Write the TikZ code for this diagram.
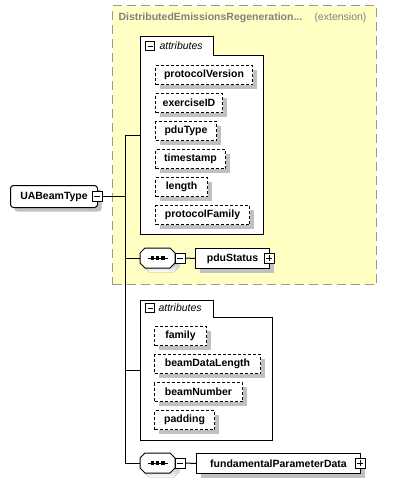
\documentclass[tikz,border=0pt]{standalone}
\usepackage{fontspec}
\setmainfont{Liberation Sans}
\usetikzlibrary{shadows}
\definecolor{extfill}{HTML}{FFFFC4}
\definecolor{extline}{HTML}{999999}
\definecolor{shade}{HTML}{C0C0C0}
\definecolor{titlegray}{HTML}{808080}
\begin{document}
\begin{tikzpicture}[x=1pt,y=-1pt,line width=1pt,
  shad/.style={drop shadow={shadow xshift=4pt,shadow yshift=-4pt,fill=shade,opacity=1}},
  namefont/.style={font=\fontsize{10.5}{12}\selectfont\bfseries},
  attr/.style={draw,dash pattern=on 3pt off 2pt,fill=white,shad,namefont,anchor=north west,minimum height=19pt,inner sep=0pt},
  elem/.style={draw,fill=white,shad,namefont,anchor=north west,minimum height=20pt,inner sep=0pt},
  grpbox/.style={draw,fill=white,anchor=north west,inner sep=0pt},
  tabbox/.style={draw,fill=white,anchor=north west,inner sep=0pt,minimum width=73pt,minimum height=19pt},
  tabtext/.style={font=\fontsize{10.5}{12}\selectfont\itshape,anchor=west,inner sep=0pt},
  minusbox/.style={draw,fill=white,minimum size=10pt,inner sep=0pt,line width=0.8pt,
    path picture={\draw[line width=0.8pt] ([xshift=2pt]path picture bounding box.west) -- ([xshift=-2pt]path picture bounding box.east);}},
  plusbox/.style={minusbox,
    path picture={\draw[line width=0.8pt] ([xshift=2pt]path picture bounding box.west) -- ([xshift=-2pt]path picture bounding box.east);
      \draw[line width=0.8pt] ([yshift=-2pt]path picture bounding box.north) -- ([yshift=2pt]path picture bounding box.south);}},
  seqpic/.pic={
    \fill[shade] (-8.5,-6) -- (16.5,-6) -- (21.5,-1) -- (21.5,9) -- (16.5,14) -- (-8.5,14) -- (-13.5,9) -- (-13.5,-1) -- cycle;
    \draw[fill=white] (-12.5,-10) -- (12.5,-10) -- (17.5,-5) -- (17.5,5) -- (12.5,10) -- (-12.5,10) -- (-17.5,5) -- (-17.5,-5) -- cycle;
    \draw (-10,0) -- (10,0);
    \fill (-7,-1.6) rectangle (-3.8,1.6);
    \fill (-1.6,-1.6) rectangle (1.6,1.6);
    \fill (3.8,-1.6) rectangle (7,1.6);
    \coordinate (-w) at (-17.5,0);
    \coordinate (-e) at (17.5,0);
  }
]
\useasboundingbox (0,0) rectangle (418,483);
\fill[white] (0,0) rectangle (418,483);

% extension box
\node[draw=extline,dash pattern=on 9pt off 5pt,fill=extfill,anchor=north west,minimum width=264pt,minimum height=279pt,inner sep=0pt] (ext) at (112,5) {};
\node[namefont,text=titlegray,anchor=west,inner sep=0pt] (exttitle) at (118,18) {DistributedEmissionsRegeneration...};
\node[font=\fontsize{10.5}{12}\selectfont,text=titlegray,anchor=west,inner sep=0pt] (extkind) at (314,18) {(extension)};

% trunk coordinates
\coordinate (J0) at (125,196);
\coordinate (J1) at (125,135);
\coordinate (J2) at (125,258);
\coordinate (J3) at (125,370);
\coordinate (J4) at (125,463);

% root element
\node[elem,rounded corners=3pt,minimum width=87pt,minimum height=22pt] (root) at (10,185) {UABeamType\hspace{10pt}};
\node[minusbox] (rootm) at (97,196) {};

% attributes group 1
\node[grpbox,minimum width=123pt,minimum height=179pt] (att1) at (140,55) {};
\node[tabbox] (att1tab) at (140,36) {};
\draw[white,line width=1.2pt] ([xshift=0.6pt]att1tab.south west) -- ([xshift=-0.6pt]att1tab.south east);
\node[minusbox,minimum size=9pt] (att1m) at (150,46) {};
\node[tabtext] (att1lbl) at (159,46) {attributes};
\node[attr,minimum width=97pt] (pv) at (155,65) {protocolVersion};
\node[attr,minimum width=67pt] (eid) at (155,93) {exerciseID};
\node[attr,minimum width=61pt] (pdut) at (155,121) {pduType};
\node[attr,minimum width=70pt] (ts) at (155,149) {timestamp};
\node[attr,minimum width=52pt] (len) at (155,177) {length};
\node[attr,minimum width=94pt] (pf) at (155,205) {protocolFamily};

% sequence 1 : pduStatus
\pic (s1) at (157.5,258) {seqpic};
\node[minusbox] (s1m) at (180,258) {};
\node[elem,minimum width=74pt] (pdus) at (195,248) {pduStatus\hspace{8pt}};
\node[plusbox] (pdusp) at (269,258) {};

% attributes group 2
\node[grpbox,minimum width=132pt,minimum height=123pt] (att2) at (140,317) {};
\node[tabbox,minimum height=17pt] (att2tab) at (140,300) {};
\draw[white,line width=1.2pt] ([xshift=0.6pt]att2tab.south west) -- ([xshift=-0.6pt]att2tab.south east);
\node[minusbox,minimum size=9pt] (att2m) at (150,308) {};
\node[tabtext] (att2lbl) at (158,308) {attributes};
\node[attr,minimum width=52pt] (fam) at (154,326) {family};
\node[attr,minimum width=106pt] (bdl) at (154,354) {beamDataLength};
\node[attr,minimum width=88pt] (bn) at (154,382) {beamNumber};
\node[attr,minimum width=60pt] (pad) at (154,410) {padding};

% sequence 2 : fundamentalParameterData
\pic (s2) at (157.5,463) {seqpic};
\node[minusbox] (s2m) at (180,463) {};
\node[elem,minimum width=164pt] (fpd) at (196,453) {fundamentalParameterData\hspace{8pt}};
\node[plusbox] (fpdp) at (360,463) {};

% connectors
\draw (rootm.east) -- (J0);
\draw (J1) -- (J4) -- (s2-w);
\draw (J1) -- (J1 -| att1.west);
\draw (J2) -- (s1-w);
\draw (J3) -- (J3 -| att2.west);
\draw (s1-e) -- (s1m.west);
\draw (s1m.east) -- (pdus.west);
\draw (s2-e) -- (s2m.west);
\draw (s2m.east) -- (fpd.west);
\end{tikzpicture}
\end{document}
